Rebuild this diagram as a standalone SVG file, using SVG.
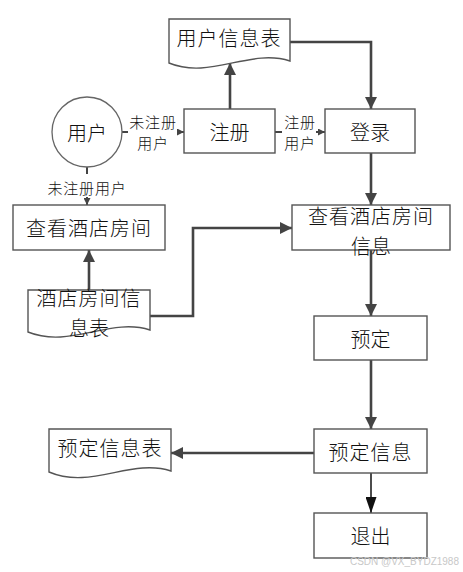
<svg xmlns="http://www.w3.org/2000/svg" width="463" height="572" viewBox="0 0 463 572">
<defs>
<style>
.box{fill:#fff;stroke:#555;stroke-width:1.4}
.doc{fill:#fff;stroke:#555;stroke-width:1.4}
.t{font-family:"Noto Sans CJK SC","Liberation Sans",sans-serif;font-size:20px;fill:#111;text-anchor:middle;dominant-baseline:central;font-weight:300}
.s{font-family:"Noto Sans CJK SC","Liberation Sans",sans-serif;font-size:15px;fill:#111;text-anchor:middle;dominant-baseline:central;font-weight:300;letter-spacing:0.8px}
.c{fill:none;stroke:#444;stroke-width:2.6}
.cs{fill:none;stroke:#444;stroke-width:2}
.cb{fill:none;stroke:#111;stroke-width:1.5}
</style>
<marker id="ah" viewBox="0 0 12 12" refX="12" refY="6" markerWidth="12" markerHeight="12" markerUnits="userSpaceOnUse" orient="auto"><path d="M0,0 L12,6 L0,12 Z" fill="#444"/></marker>
<marker id="as" viewBox="0 0 7 7" refX="7" refY="3.5" markerWidth="7" markerHeight="7" markerUnits="userSpaceOnUse" orient="auto"><path d="M0,0 L7,3.5 L0,7 Z" fill="#444"/></marker>
<marker id="ab" viewBox="0 0 16 11" refX="16" refY="5.5" markerWidth="16" markerHeight="11" markerUnits="userSpaceOnUse" orient="auto"><path d="M0,0 L16,5.5 L0,11 Z" fill="#111"/></marker>
</defs>
<g id="connectors">
<path class="c" d="M230,109 V63" marker-end="url(#ah)"/>
<path class="c" d="M290,42 H371 V109" marker-end="url(#ah)"/>
<path class="c" d="M371,153 V205" marker-end="url(#ah)"/>
<path class="c" d="M371,250 V316" marker-end="url(#ah)"/>
<path class="c" d="M371,360 V429" marker-end="url(#ah)"/>
<path class="c" d="M314,453 H171" marker-end="url(#ah)"/>
<path class="c" d="M89,291 V250" marker-end="url(#ah)"/>
<path class="c" d="M150,316 H193 V228 H292" marker-end="url(#ah)"/>
<path class="cb" d="M371,473 V513" marker-end="url(#ab)"/>
<path class="cs" d="M122,132 H128"/>
<path class="cs" d="M177,132 H184" marker-end="url(#as)"/>
<path class="cs" d="M275,132 H282"/>
<path class="cs" d="M316,132 H325" marker-end="url(#as)"/>
<path class="cs" d="M87,167 V174"/>
<path class="cs" d="M87,197 V205" marker-end="url(#as)"/>
<text class="s" x="153" y="121">未注册</text>
<text class="s" x="153" y="142">用户</text>
<text class="s" x="300" y="121">注册</text>
<text class="s" x="300" y="142">用户</text>
<text class="s" x="87" y="187">未注册用户</text>
</g>
<g id="user"><circle cx="87" cy="132" r="35" fill="#fff" stroke="#666" stroke-width="1.3"/><text class="t" x="87" y="132">用户</text></g>
<g id="userTable"><path class="doc" d="M169,19 H290 V61 C250,48 210,80 169,63 Z"/><text class="t" x="229" y="37" letter-spacing="1">用户信息表</text></g>
<g id="register"><rect class="box" x="184" y="109" width="91" height="44"/><text class="t" x="229.5" y="131">注册</text></g>
<g id="login"><rect class="box" x="325" y="109" width="90" height="44"/><text class="t" x="370" y="131">登录</text></g>
<g id="viewRooms"><rect class="box" x="13" y="205" width="152" height="45"/><text class="t" x="89" y="227.5" letter-spacing="1">查看酒店房间</text></g>
<g id="viewRoomInfo"><rect class="box" x="292" y="205" width="158" height="45"/><text class="t" x="371" y="215" letter-spacing="1">查看酒店房间</text><text class="t" x="371" y="245">信息</text></g>
<g id="roomTable"><path class="doc" d="M28,290 H150 V330 C110,317 70,349 28,332 Z"/><text class="t" x="89" y="297" letter-spacing="1">酒店房间信</text><text class="t" x="89" y="327">息表</text></g>
<g id="book"><rect class="box" x="314" y="316" width="113" height="44"/><text class="t" x="370.5" y="338">预定</text></g>
<g id="bookInfo"><rect class="box" x="314" y="429" width="113" height="44"/><text class="t" x="370.5" y="451" letter-spacing="1">预定信息</text></g>
<g id="bookTable"><path class="doc" d="M49,429 H171 V471 C131,458 91,490 49,472 Z"/><text class="t" x="110" y="447" letter-spacing="1">预定信息表</text></g>
<g id="exit"><rect class="box" x="314" y="513" width="113" height="45"/><text class="t" x="370.5" y="535">退出</text></g>
<text x="459" y="565" font-family="'Liberation Sans',sans-serif" font-size="10" fill="#c8c8c8" text-anchor="end">CSDN @VX_BYDZ1988</text>
</svg>
